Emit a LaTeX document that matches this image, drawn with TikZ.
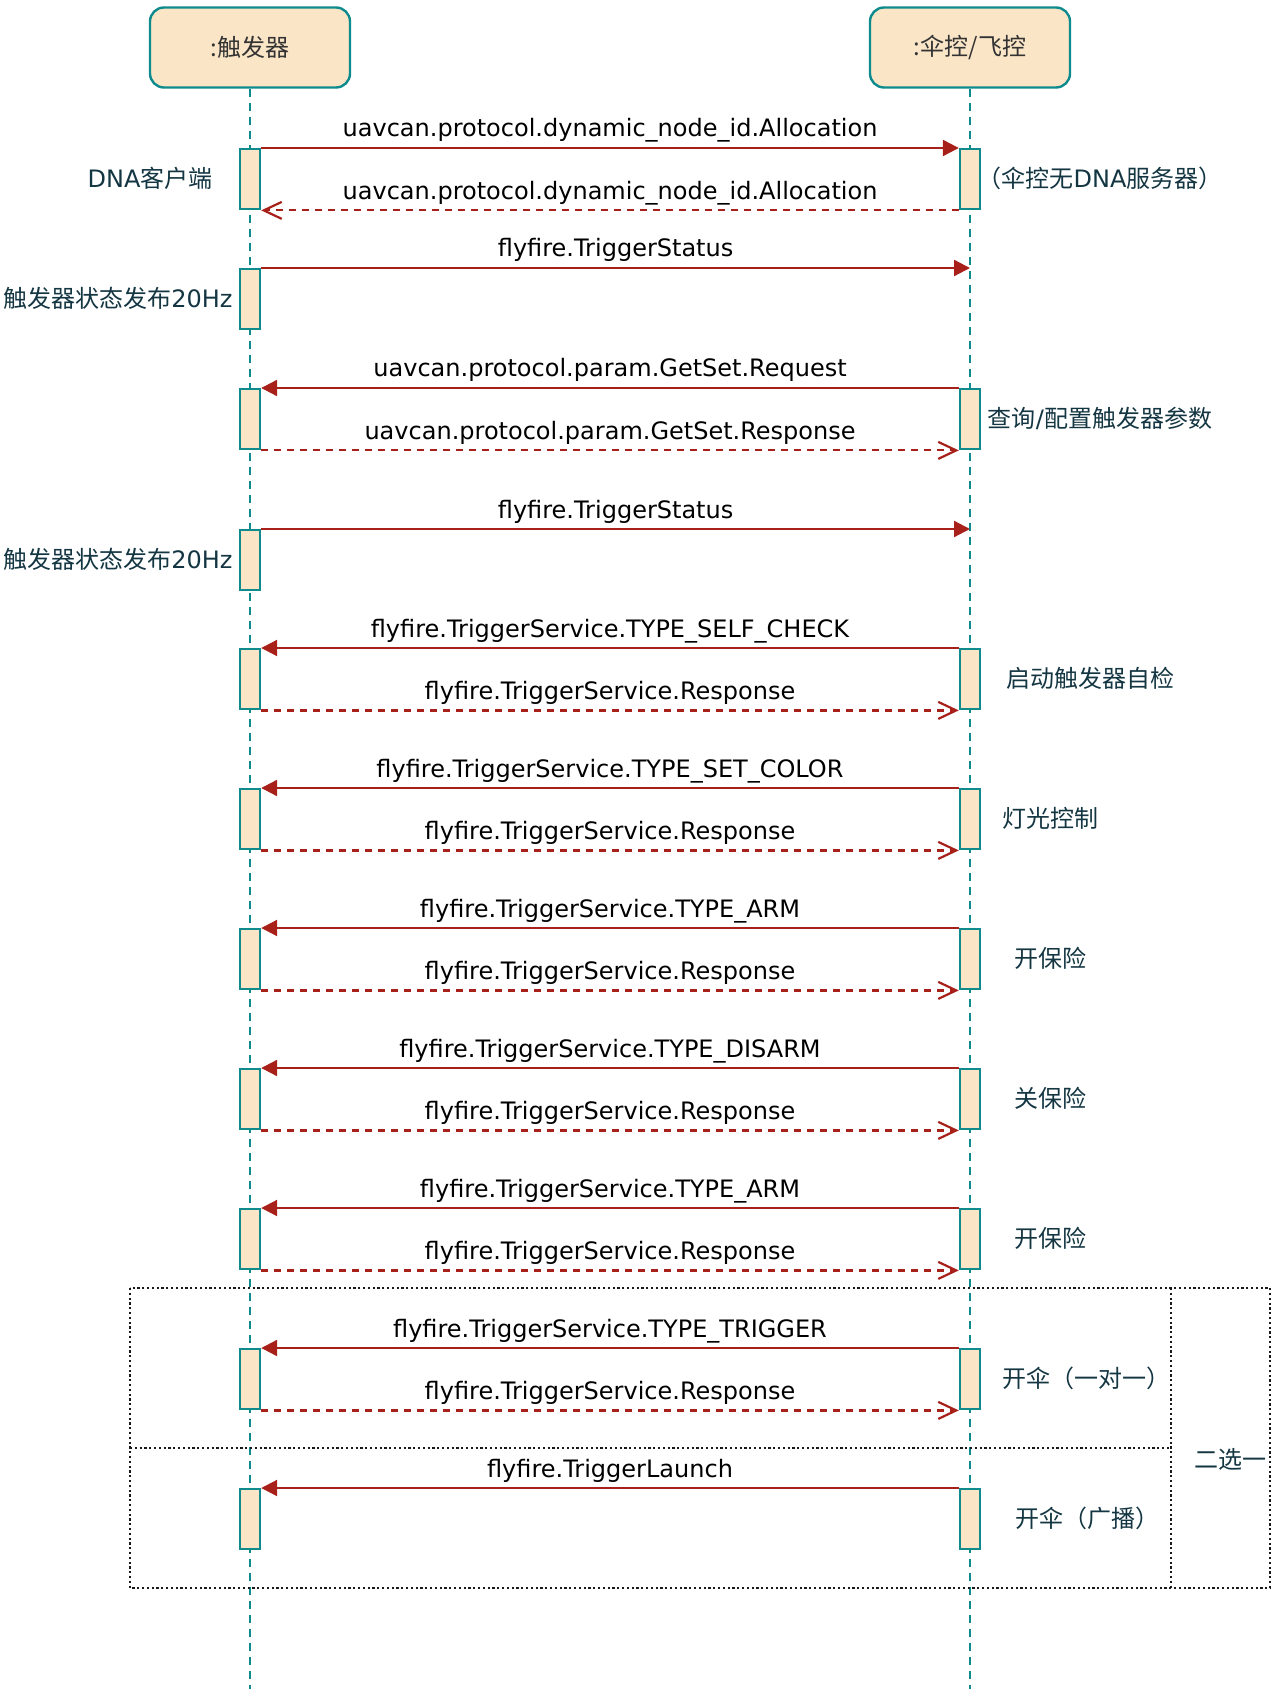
\documentclass[tikz,border=0pt]{standalone}
\usepackage{fontspec}
\setmainfont{DejaVu Sans}
\newfontfamily\cjk{Noto Sans CJK SC}
\usepackage{xcolor}
\definecolor{lifeedge}{HTML}{0F8B8D}
\definecolor{lifefill}{HTML}{FAE5C7}
\definecolor{msgred}{HTML}{A8201A}
\definecolor{notetext}{HTML}{143642}
\usepackage{tikz}
\usetikzlibrary{arrows.meta, positioning, calc}

\begin{document}
\begin{tikzpicture}[
  x=0.5pt, y=-0.5pt,
  font=\fontsize{12}{14}\selectfont,
  head/.style={
    draw=lifeedge, fill=lifefill, line width=1.2pt, rounded corners=7pt,
    minimum width=100pt, minimum height=40pt, text=black!80, font=\fontsize{12}{14}\selectfont\cjk
  },
  bar/.style={
    draw=lifeedge, fill=lifefill, line width=1.2pt, inner sep=0pt,
    minimum width=10pt, minimum height=30pt, anchor=north
  },
  life/.style={lifeedge, line width=1.1pt, dash pattern=on 4pt off 3pt},
  call/.style={msgred, line width=1.1pt, -{Triangle[length=8pt, width=8pt]}},
  reply/.style={msgred, line width=1.1pt, dash pattern=on 3.5pt off 3pt,
    -{Straight Barb[length=9pt, width=8.5pt]}},
  msglbl/.style={anchor=base, yshift=5.5pt, inner sep=0pt, text=black},
  note/.style={text=notetext, inner sep=0pt},
  frame/.style={black!90, line width=1.1pt, dash pattern=on 1.1pt off 1.3pt}
]
  \useasboundingbox (0,0) rectangle (1275,1689);

  \node[head] (trig) at (250,47.5) {:触发器};
  \node[head] (ctrl) at (970,47.5) {:伞控/飞控};
  \coordinate (trigend) at (250,1689);
  \coordinate (ctrlend) at (970,1689);
  \draw[life] (trig) -- (trigend);
  \draw[life] (ctrl) -- (ctrlend);

  % dynamic node id
  \node[bar] (tb1) at (250,148) {};
  \node[bar] (cb1) at (970,148) {};
  \draw[call] (tb1.north east) -- node[msglbl] {uavcan.protocol.dynamic\_node\_id.Allocation} (cb1.north west);
  \draw[reply] (cb1.south west) -- node[msglbl] {uavcan.protocol.dynamic\_node\_id.Allocation} (tb1.south east);
  \node[note] at (150,178) {DNA{\cjk 客户端}};
  \node[note] at (1100,178) {{\cjk （伞控无}DNA{\cjk 服务器）}};

  % status
  \node[bar] (tb2) at (250,268) {};
  \coordinate (cs2) at (ctrl |- tb2.north);
  \draw[call] (tb2.north east) -- node[msglbl] {flyfire.TriggerStatus} (cs2);
  \node[note, anchor=east] at (233,298) {{\cjk 触发器状态发布}20Hz};

  % parameters
  \node[bar] (tb3) at (250,388) {};
  \node[bar] (cb3) at (970,388) {};
  \draw[call] (cb3.north west) -- node[msglbl] {uavcan.protocol.param.GetSet.Request} (tb3.north east);
  \draw[reply] (tb3.south east) -- node[msglbl] {uavcan.protocol.param.GetSet.Response} (cb3.south west);
  \node[note] at (1100,418) {{\cjk 查询}/{\cjk 配置触发器参数}};

  \node[bar] (tb4) at (250,529) {};
  \coordinate (cs4) at (ctrl |- tb4.north);
  \draw[call] (tb4.north east) -- node[msglbl] {flyfire.TriggerStatus} (cs4);
  \node[note, anchor=east] at (233,559) {{\cjk 触发器状态发布}20Hz};

  % trigger services
  \foreach \n/\y/\req/\what/\nx in {
      5/648/TYPE\_SELF\_CHECK/启动触发器自检/1090,
      6/788/TYPE\_SET\_COLOR/灯光控制/1050,
      7/928/TYPE\_ARM/开保险/1050,
      8/1068/TYPE\_DISARM/关保险/1050,
      9/1208/TYPE\_ARM/开保险/1050,
      10/1348/TYPE\_TRIGGER/开伞（一对一）/1086} {
    \node[bar] (tb\n) at (250,\y) {};
    \node[bar] (cb\n) at (970,\y) {};
    \draw[call] (cb\n.north west) -- node[msglbl] {flyfire.TriggerService.\req} (tb\n.north east);
    \draw[reply] (tb\n.south east) -- node[msglbl] {flyfire.TriggerService.Response} (cb\n.south west);
    \node[note] at (\nx,\y+30) {\cjk\what};
  }

  \node[bar] (tb11) at (250,1488) {};
  \node[bar] (cb11) at (970,1488) {};
  \draw[call] (cb11.north west) -- node[msglbl] {flyfire.TriggerLaunch} (tb11.north east);
  \node[note] at (1087,1518) {\cjk 开伞（广播）};

  % alternative block
  \draw[frame] (130,1288) rectangle (1270,1588);
  \draw[frame] (1171,1288) -- (1171,1588);
  \draw[frame] (130,1448) -- (1171,1448);
  \node[note] at (1230,1459) {\cjk 二选一};
\end{tikzpicture}
\end{document}
